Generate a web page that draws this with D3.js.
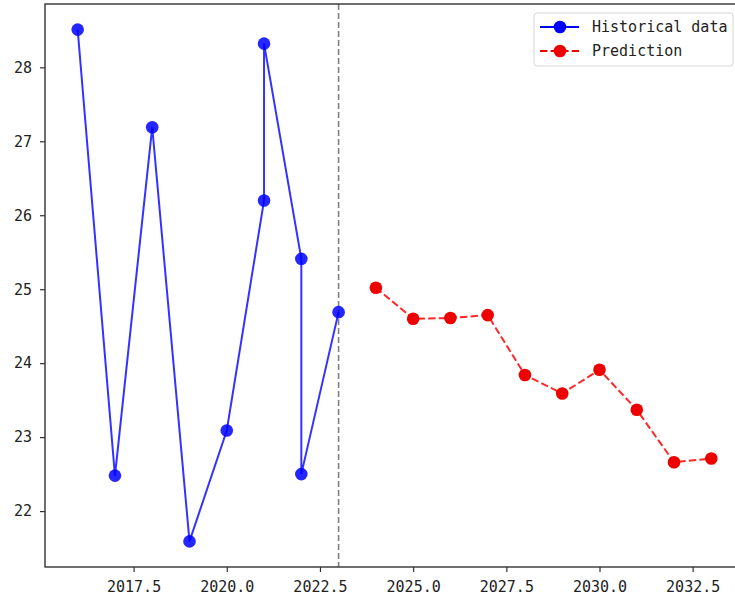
<!DOCTYPE html>
<html>
<head>
<meta charset="utf-8">
<script src="https://cdn.jsdelivr.net/npm/d3@7"></script>
<style>
	html, body { margin: 0; padding: 0; background: #fff; }
	svg { display: block; }
	text { font-family: "DejaVu Sans Mono", "Liberation Mono", monospace; font-size: 15px; fill: #222; }
</style>
</head>
<body>
<div id="graphic"></div>
<script>

// historical series (two readings in 2021 and 2022)
const histYears  = [ 2016, 2017, 2018, 2019, 2020, 2021, 2021, 2022, 2022, 2023 ];
const histValues = [ 28.51, 22.48, 27.19, 21.59, 23.09, 26.20, 28.32, 25.41, 22.50, 24.69 ];

// prediction series
const predYears  = [ 2024, 2025, 2026, 2027, 2028, 2029, 2030, 2031, 2032, 2033 ];
const predValues = [ 25.02, 24.60, 24.61, 24.65, 23.84, 23.59, 23.91, 23.37, 22.66, 22.71 ];

const xTicks = [ 2017.5, 2020.0, 2022.5, 2025.0, 2027.5, 2030.0, 2032.5 ];
const yTicks = [ 22, 23, 24, 25, 26, 27, 28 ];
const splitYear = 2023;

const legendLabels = [ "Historical data", "Prediction" ];

///////////////////////////////////////////////////////////////////////

const width = 735, height = 602;
const plot = { left: 46, right: 743, top: 4, bottom: 567 };

let svg = d3.select( "#graphic" )
	.append( "svg" )
		.attr( "width", width )
		.attr( "height", height );

// matplotlib style 5% margins around the data
function padded( vals ) {
	let [ lo, hi ] = d3.extent( vals );
	let m = ( hi - lo ) * 0.05;
	return [ lo - m, hi + m ];
}

let x = d3.scaleLinear()
	.domain( padded( histYears.concat( predYears ) ) )
	.range( [ plot.left, plot.right ] );

let y = d3.scaleLinear()
	.domain( padded( histValues.concat( predValues ) ) )
	.range( [ plot.bottom, plot.top ] );

let hist = histYears.map( ( d, i ) => ( { x: d, y: histValues[ i ] } ) );
let pred = predYears.map( ( d, i ) => ( { x: d, y: predValues[ i ] } ) );

let line = d3.line()
	.x( d => x( d.x ) )
	.y( d => y( d.y ) );

// split marker
svg.append( "line" )
	.attr( "x1", x( splitYear ) ).attr( "x2", x( splitYear ) )
	.attr( "y1", plot.top ).attr( "y2", plot.bottom )
	.attr( "stroke", "#808080" )
	.attr( "stroke-width", 1.6 )
	.attr( "stroke-dasharray", "6,3" );

// historical
svg.append( "path" )
	.datum( hist )
	.attr( "d", line )
	.attr( "fill", "none" )
	.attr( "stroke", "#0000ff" )
	.attr( "stroke-opacity", 0.8 )
	.attr( "stroke-width", 2 );

svg.append( "g" )
	.selectAll( "circle" )
	.data( hist )
	.join( "circle" )
		.attr( "cx", d => x( d.x ) )
		.attr( "cy", d => y( d.y ) )
		.attr( "r", 6.3 )
		.attr( "fill", "#0000ff" )
		.attr( "fill-opacity", 0.85 );

// prediction
svg.append( "path" )
	.datum( pred )
	.attr( "d", line )
	.attr( "fill", "none" )
	.attr( "stroke", "#ff0000" )
	.attr( "stroke-opacity", 0.85 )
	.attr( "stroke-width", 2 )
	.attr( "stroke-dasharray", "7.4,3.2" );

svg.append( "g" )
	.selectAll( "circle" )
	.data( pred )
	.join( "circle" )
		.attr( "cx", d => x( d.x ) )
		.attr( "cy", d => y( d.y ) )
		.attr( "r", 6.3 )
		.attr( "fill", "#ee0000" );

// axes
let xAxis = svg.append( "g" )
	.attr( "transform", `translate(0,${ plot.bottom })` )
	.call( d3.axisBottom( x ).tickValues( xTicks ).tickFormat( d3.format( ".1f" ) ).tickSize( 5 ).tickPadding( 6 ) );

let yAxis = svg.append( "g" )
	.attr( "transform", `translate(${ plot.left - 1 },0)` )
	.call( d3.axisLeft( y ).tickValues( yTicks ).tickSize( 5 ).tickPadding( 8 ) );

for ( let ax of [ xAxis, yAxis ] ) {
	ax.select( ".domain" ).remove();
	ax.selectAll( ".tick line" ).attr( "stroke", "#333" ).attr( "stroke-width", 1.2 );
	ax.selectAll( ".tick text" ).attr( "font-family", null ).attr( "font-size", null ).attr( "fill", "#222" );
}
xAxis.selectAll( ".tick text" ).attr( "dy", "0.95em" );

// frame
svg.append( "rect" )
	.attr( "x", plot.left - 1 )
	.attr( "y", plot.top )
	.attr( "width", plot.right - plot.left + 1 )
	.attr( "height", plot.bottom - plot.top )
	.attr( "fill", "none" )
	.attr( "stroke", "#333" )
	.attr( "stroke-width", 1.4 );

// legend
let legend = svg.append( "g" ).attr( "transform", "translate(534,13)" );

legend.append( "rect" )
	.attr( "width", 199 )
	.attr( "height", 53 )
	.attr( "rx", 3 )
	.attr( "fill", "#fff" )
	.attr( "fill-opacity", 0.8 )
	.attr( "stroke", "#d6d6d6" );

let legendStyle = [
	{ color: "#0000ff", dash: null },
	{ color: "#ee0000", dash: "7.4,3.2" }
];

let rows = legend.selectAll( "g.row" )
	.data( legendLabels )
	.join( "g" )
		.attr( "class", "row" )
		.attr( "transform", ( d, i ) => `translate(0,${ 14 + i * 24 })` );

rows.append( "line" )
	.attr( "x1", 6 ).attr( "x2", 45 )
	.attr( "stroke", ( d, i ) => legendStyle[ i ].color )
	.attr( "stroke-width", 2 )
	.attr( "stroke-dasharray", ( d, i ) => legendStyle[ i ].dash );

rows.append( "circle" )
	.attr( "cx", 26 )
	.attr( "r", 6.3 )
	.attr( "fill", ( d, i ) => legendStyle[ i ].color );

rows.append( "text" )
	.attr( "x", 58 )
	.attr( "dy", "0.35em" )
	.text( d => d );

</script>
</body>
</html>
